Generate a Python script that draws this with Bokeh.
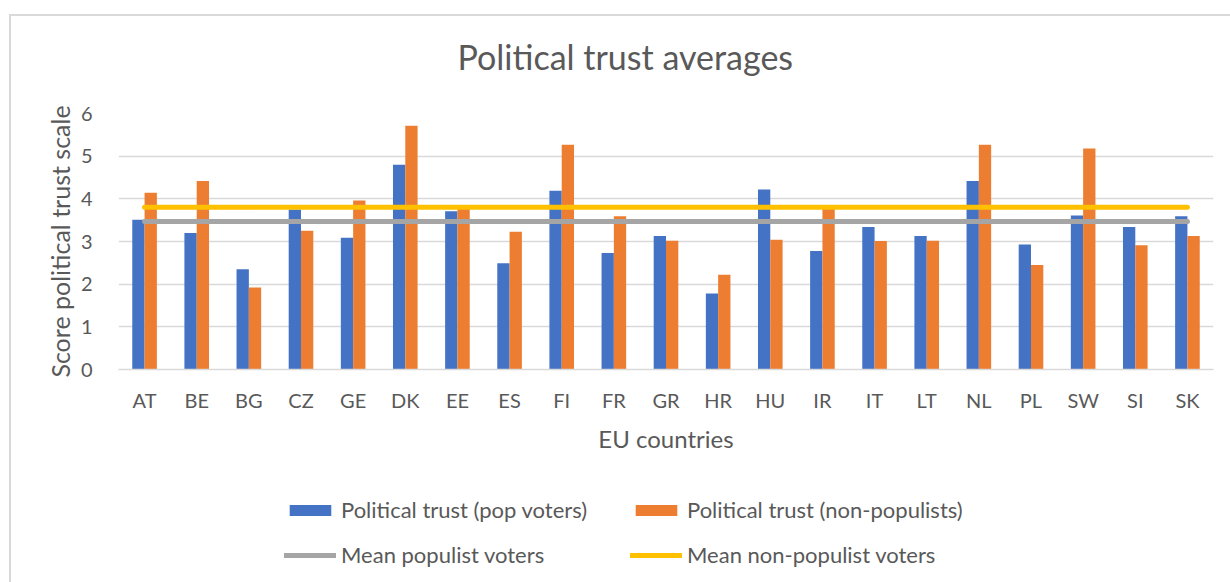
from bokeh.plotting import figure
from bokeh.layouts import column
from bokeh.models import (ColumnDataSource, Range1d, FactorRange, Legend, LegendItem,
                          SingleIntervalTicker, Title)
from bokeh.transform import dodge
from bokeh.embed import file_html
from bokeh.resources import INLINE

countries = ["AT", "BE", "BG", "CZ", "GE", "DK", "EE", "ES", "FI", "FR", "GR",
             "HR", "HU", "IR", "IT", "LT", "NL", "PL", "SW", "SI", "SK"]
trust_pop = [3.51, 3.20, 2.35, 3.75, 3.09, 4.80, 3.71, 2.49, 4.19, 2.73, 3.13,
             1.78, 4.22, 2.78, 3.34, 3.13, 4.42, 2.93, 3.61, 3.34, 3.59]
trust_nonpop = [4.14, 4.42, 1.92, 3.25, 3.96, 5.71, 3.76, 3.23, 5.27, 3.59, 3.02,
                2.22, 3.04, 3.76, 3.01, 3.02, 5.27, 2.45, 5.18, 2.91, 3.13]
mean_pop = 3.47
mean_nonpop = 3.80
series_names = ["Political trust (pop voters)", "Political trust (non-populists)",
                "Mean populist voters", "Mean non-populist voters"]
colors = ["#4472C4", "#ED7D31", "#A5A5A5", "#FFC000"]

FONT = "Lato"
TXT = "#595959"
GRID = "#d9d9d9"

src = ColumnDataSource(dict(country=countries, pop=trust_pop, nonpop=trust_nonpop))
line_src = ColumnDataSource(dict(x=[countries[0], countries[-1]],
                                 mp=[mean_pop, mean_pop],
                                 mn=[mean_nonpop, mean_nonpop]))

p = figure(width=1219, height=454, x_range=FactorRange(*countries), y_range=Range1d(0, 6),
           output_backend="svg", toolbar_location=None,
           min_border_left=107, min_border_right=17, min_border_top=97, min_border_bottom=101,
           title="Political trust averages")
p.outline_line_color = None
p.background_fill_color = "white"
p.border_fill_color = "white"

p.title.text_font = FONT
p.title.text_font_size = "34px"
p.title.text_font_style = "normal"
p.title.text_color = TXT
p.title.align = "left"
p.title.offset = 339
p.title.standoff = 10
p.add_layout(Title(text=" ", text_font_size="20px", standoff=6, text_font=FONT), "above")

w = 0.236
b1 = p.vbar(x=dodge("country", -w / 2, range=p.x_range), top="pop", width=w, source=src,
            fill_color=colors[0], line_color=None)
b2 = p.vbar(x=dodge("country", w / 2, range=p.x_range), top="nonpop", width=w, source=src,
            fill_color=colors[1], line_color=None)
l1 = p.line(x="x", y="mp", source=line_src, line_color=colors[2], line_width=5, line_cap="round")
l2 = p.line(x="x", y="mn", source=line_src, line_color=colors[3], line_width=5, line_cap="round")

p.xgrid.grid_line_color = None
p.ygrid.grid_line_color = GRID
p.ygrid.grid_line_width = 1.5
p.yaxis.ticker = SingleIntervalTicker(interval=1)

for ax in (p.xaxis[0], p.yaxis[0]):
    ax.major_tick_line_color = None
    ax.minor_tick_line_color = None
    ax.major_label_text_font = FONT
    ax.major_label_text_font_size = "20px"
    ax.major_label_text_color = TXT
    ax.axis_label_text_font = FONT
    ax.axis_label_text_font_size = "24px"
    ax.axis_label_text_font_style = "normal"
    ax.axis_label_text_color = TXT
p.yaxis.axis_label_text_font_size = "25px"
p.yaxis.axis_line_color = None
p.xaxis.axis_line_color = GRID
p.xaxis.axis_line_width = 1.5
p.yaxis.axis_label = "Score political trust scale"
p.xaxis.axis_label = "EU countries"
p.yaxis.major_label_standoff = 20
p.yaxis.axis_label_standoff = 3
p.xaxis.major_label_standoff = 12
p.xaxis.axis_label_standoff = 9

# legend strip below the chart (frame aligned with the chart frame by the column layout)
p2 = figure(width=1219, height=112, x_range=Range1d(0, 1), y_range=Range1d(0, 1),
            output_backend="svg", toolbar_location=None, x_axis_type=None, y_axis_type=None,
            min_border_left=0, min_border_right=0, min_border_top=0, min_border_bottom=0)
p2.outline_line_color = None
p2.grid.grid_line_color = None
p2.border_fill_color = "white"
# legend-key renderers, kept outside the visible range of the strip
g1 = p2.vbar(x=[-5], top=[-5], width=0.1, fill_color=colors[0], line_color=None)
g2 = p2.vbar(x=[-5], top=[-5], width=0.1, fill_color=colors[1], line_color=None)
g3 = p2.line(x=[-5, -4], y=[-5, -5], line_color=colors[2], line_width=5, line_cap="round")
g4 = p2.line(x=[-5, -4], y=[-5, -5], line_color=colors[3], line_width=5, line_cap="round")


def make_legend(items, loc):
    lg = Legend(items=[LegendItem(label=n, renderers=[r]) for n, r in items])
    lg.label_text_font = FONT
    lg.label_text_font_size = "22px"
    lg.label_text_color = TXT
    lg.glyph_width = 52
    lg.glyph_height = 14
    lg.label_standoff = 5
    lg.spacing = 18
    lg.padding = 4
    lg.margin = 0
    lg.border_line_color = None
    lg.background_fill_alpha = 0
    lg.location = loc
    return lg


p2.add_layout(make_legend([(series_names[0], g1), (series_names[2], g3)], (166, 14)), "center")
p2.add_layout(make_legend([(series_names[1], g2), (series_names[3], g4)], (512, 14)), "center")

layout = column(p, p2, spacing=0)
layout.styles = {"margin-left": "9px", "margin-top": "14px",
                 "border-left": "2px solid #d9d9d9", "border-top": "2px solid #d9d9d9"}

open("out.html", "w").write(file_html(layout, INLINE))
